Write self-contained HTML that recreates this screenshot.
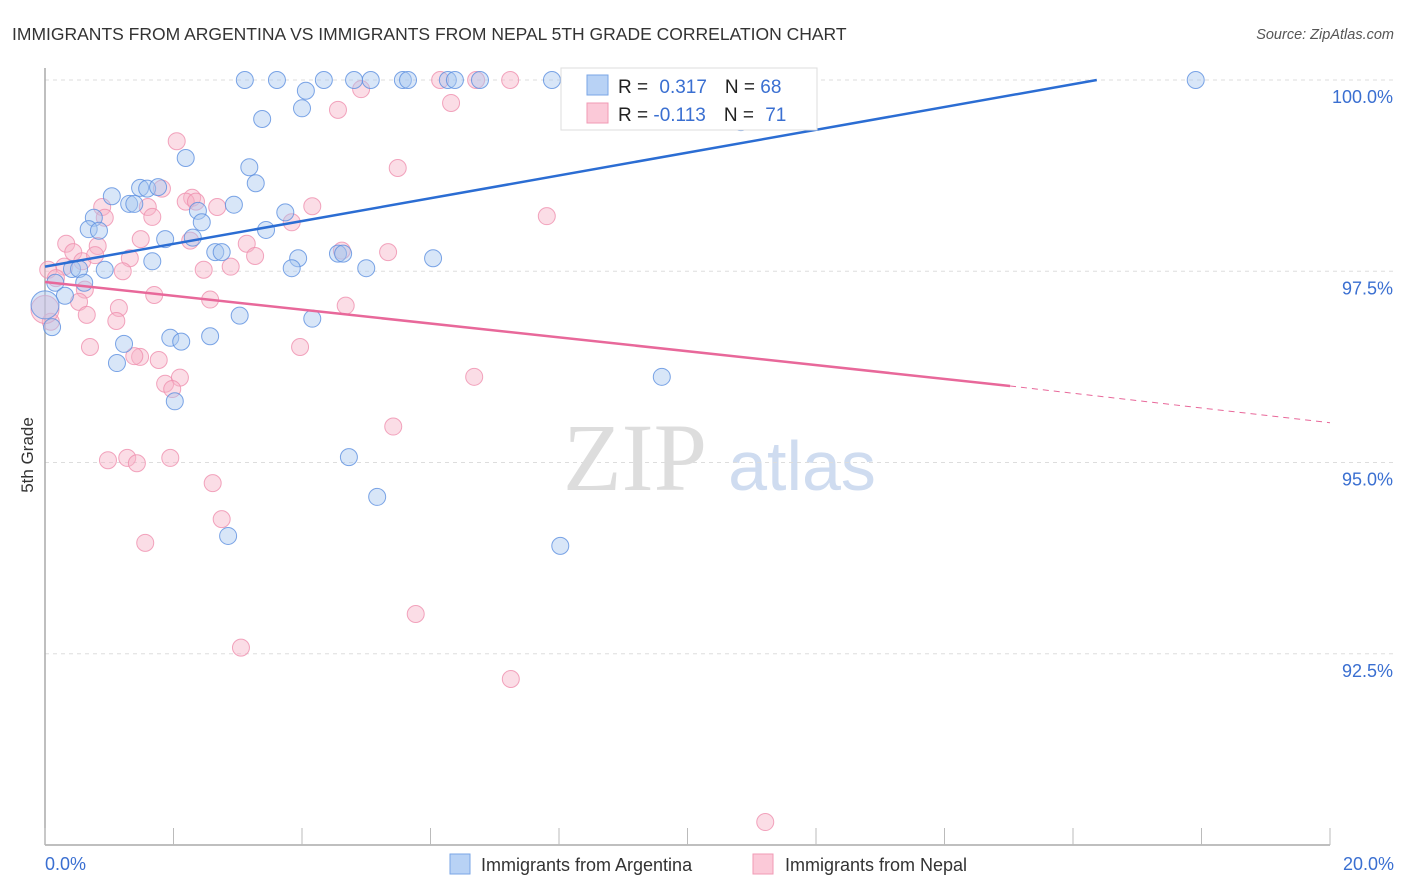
<!DOCTYPE html>
<html><head><meta charset="utf-8"><style>
body{margin:0;background:#fff;font-family:"Liberation Sans",sans-serif;}
svg{display:block}
</style></head><body>
<svg id="chart" width="1406" height="892">
<text x="12" y="40" font-size="17.5" fill="#333">IMMIGRANTS FROM ARGENTINA VS IMMIGRANTS FROM NEPAL 5TH GRADE CORRELATION CHART</text>
<text x="1394" y="39" font-size="14.5" fill="#555" font-style="italic" text-anchor="end">Source: ZipAtlas.com</text>
<text x="33" y="455" font-size="17" fill="#333" text-anchor="middle" transform="rotate(-90 33 455)">5th Grade</text>
<g><text x="635" y="490" font-size="96" fill="#ddd" font-family="Liberation Serif,serif" text-anchor="middle">ZIP</text><text x="802" y="490" font-size="70" fill="#cfdcf0" text-anchor="middle">atlas</text></g>
<g id="grid"></g><g id="axes"></g><g id="pts"></g><g id="trend"></g>
<g>
<rect x="561" y="68" width="256" height="62" fill="#fff" stroke="#ddd"/>
<rect x="587" y="75" width="21" height="20" fill="#b8d2f5" stroke="#7aa6e6"/>
<rect x="587" y="103" width="21" height="20" fill="#fbc9d8" stroke="#f09ab5"/>
<text x="618" y="93" font-size="19" fill="#222">R = <tspan fill="#3a6fd1" dx="6">0.317</tspan><tspan fill="#222" dx="18">N = </tspan><tspan fill="#3a6fd1">68</tspan></text>
<text x="618" y="121" font-size="19" fill="#222">R = <tspan fill="#3a6fd1">-0.113</tspan><tspan fill="#222" dx="18">N = </tspan><tspan fill="#3a6fd1" dx="6">71</tspan></text>
</g>
<g>
<rect x="450" y="854" width="20" height="20" fill="#b8d2f5" stroke="#7aa6e6"/>
<text x="481" y="871" font-size="18" fill="#333">Immigrants from Argentina</text>
<rect x="753" y="854" width="20" height="20" fill="#fbc9d8" stroke="#f09ab5"/>
<text x="785" y="871" font-size="18" fill="#333">Immigrants from Nepal</text>
</g>
</svg>
<script>
const yTicks=[100,97.5,95,92.5];
const yTickLabels=["100.0%","97.5%","95.0%","92.5%"];
const xTickLabels=["0.0%","20.0%"];
const blueX=[3.11,3.61,4.34,4.81,5.07,5.57,5.65,6.27,6.38,6.77,7.89,8.19,17.91,4.06,4.00,3.38,10.83,2.19,3.18,3.28,1.04,1.48,1.59,1.76,1.31,1.39,2.94,3.74,2.38,2.44,0.76,0.68,0.84,3.44,1.87,2.30,2.65,2.75,1.67,3.94,4.56,4.64,6.04,0.42,0.53,0.93,3.84,5.00,0.16,0.61,0.31,3.03,4.16,0.11,1.95,2.12,2.57,1.23,1.12,9.60,2.02,4.73,5.17,2.85,8.02,0.0];
const blueY=[100,100,100,100,100,100,100,100,100,100,100,100,100,99.86,99.63,99.49,99.45,98.98,98.86,98.65,98.48,98.59,98.58,98.60,98.38,98.38,98.37,98.27,98.29,98.14,98.20,98.05,98.03,98.04,97.92,97.94,97.75,97.75,97.63,97.67,97.73,97.73,97.67,97.53,97.53,97.52,97.54,97.54,97.35,97.35,97.18,96.92,96.88,96.77,96.63,96.58,96.65,96.55,96.30,96.12,95.80,95.07,94.55,94.04,93.91,97.06];
const pinkX=[6.15,6.71,7.24,4.92,6.32,4.56,2.05,5.49,1.82,2.29,2.19,2.35,2.68,4.16,0.89,1.60,0.93,1.67,7.81,3.84,0.33,1.49,2.26,3.14,0.82,4.62,0.44,5.34,3.27,1.32,0.58,0.30,0.05,0.78,1.21,2.47,2.89,0.17,0.62,1.70,2.57,0.53,1.15,4.68,0.65,1.11,0.09,0.70,3.97,1.48,1.39,1.77,1.87,2.10,6.68,1.98,5.42,0.98,1.28,1.43,1.95,2.61,2.75,1.56,5.77,3.05,7.25,11.21,0.0];
const pinkY=[100,100,100,99.88,99.70,99.61,99.20,98.85,98.58,98.46,98.41,98.41,98.34,98.35,98.34,98.34,98.20,98.21,98.22,98.14,97.86,97.92,97.90,97.86,97.83,97.77,97.75,97.75,97.70,97.67,97.63,97.56,97.52,97.71,97.50,97.52,97.56,97.41,97.26,97.19,97.13,97.10,97.02,97.05,96.93,96.85,96.84,96.51,96.51,96.38,96.39,96.34,96.03,96.11,96.12,95.96,95.47,95.03,95.06,94.99,95.06,94.73,94.26,93.95,93.02,92.58,92.17,90.30,97.0];
const blueTrend=[[0,97.56],[16.37,100]];
const pinkTrend=[[0,97.36],[15.02,96.0]];
const pinkDash=[[15.02,96.0],[20,95.52]];
const NS="http://www.w3.org/2000/svg";
const X0=45,X1=1330,Y0=80,Y1=845;
const sx=v=>X0+(v/20)*(X1-X0);
const sy=v=>Y0+(100-v)/10*(Y1-Y0);
function mk(tag,attrs,parent){const e=document.createElementNS(NS,tag);for(const k in attrs)e.setAttribute(k,attrs[k]);parent.appendChild(e);return e;}
const grid=document.getElementById('grid'),axes=document.getElementById('axes');
yTicks.forEach((t,i)=>{
 const l=mk('line',{x1:X0,x2:1394,y1:sy(t),y2:sy(t),stroke:'#ddd','stroke-dasharray':'4,4'},grid);
 
 
 const tx=mk('text',{x:1393,y:sy(t)+23,'font-size':18,fill:'#3a6fd1','text-anchor':'end'},axes);
 tx.textContent=yTickLabels[i];
 
 
});
const xa=mk('line',{x1:X0,x2:X1,y1:Y1,y2:Y1,stroke:'#aaa','stroke-width':1.5},axes);


const ya=mk('line',{x1:X0,x2:X0,y1:68,y2:Y1,stroke:'#aaa','stroke-width':1.5},axes);


for(let i=0;i<=10;i++){
 const t=mk('line',{x1:sx(i*2),x2:sx(i*2),y1:828,y2:Y1,stroke:'#bbb'},axes);
 
 
}
const xl0=mk('text',{x:45,y:870,'font-size':18,fill:'#3a6fd1'},axes);xl0.textContent=xTickLabels[0];


const xl1=mk('text',{x:1394,y:870,'font-size':18,fill:'#3a6fd1','text-anchor':'end'},axes);xl1.textContent=xTickLabels[1];


const pts=document.getElementById('pts');
function drawPts(xs,ys,fill,stroke,name){
 xs.forEach((x,i)=>{
  const big=(x===0);
  const c=mk('circle',{cx:sx(x),cy:sy(ys[i]),r:big?14:8.5,fill:fill,'fill-opacity':0.45,stroke:stroke,'stroke-opacity':0.8,'stroke-width':1},pts);
  
  
 });
}
drawPts(pinkX,pinkY,'#f7b3c7','#ef8fae','point-nepal');
drawPts(blueX,blueY,'#a9c8f0','#5b8ee0','point-argentina');
const tr=document.getElementById('trend');
const bl=mk('line',{x1:sx(blueTrend[0][0]),y1:sy(blueTrend[0][1]),x2:sx(blueTrend[1][0]),y2:sy(blueTrend[1][1]),stroke:'#2b6dd3','stroke-width':2.5},tr);


const pl=mk('line',{x1:sx(pinkTrend[0][0]),y1:sy(pinkTrend[0][1]),x2:sx(pinkTrend[1][0]),y2:sy(pinkTrend[1][1]),stroke:'#e8689a','stroke-width':2.5},tr);


const pd=mk('line',{x1:sx(pinkDash[0][0]),y1:sy(pinkDash[0][1]),x2:sx(pinkDash[1][0]),y2:sy(pinkDash[1][1]),stroke:'#e8689a','stroke-width':1,'stroke-dasharray':'6,5'},tr);


</script>
</body></html>
